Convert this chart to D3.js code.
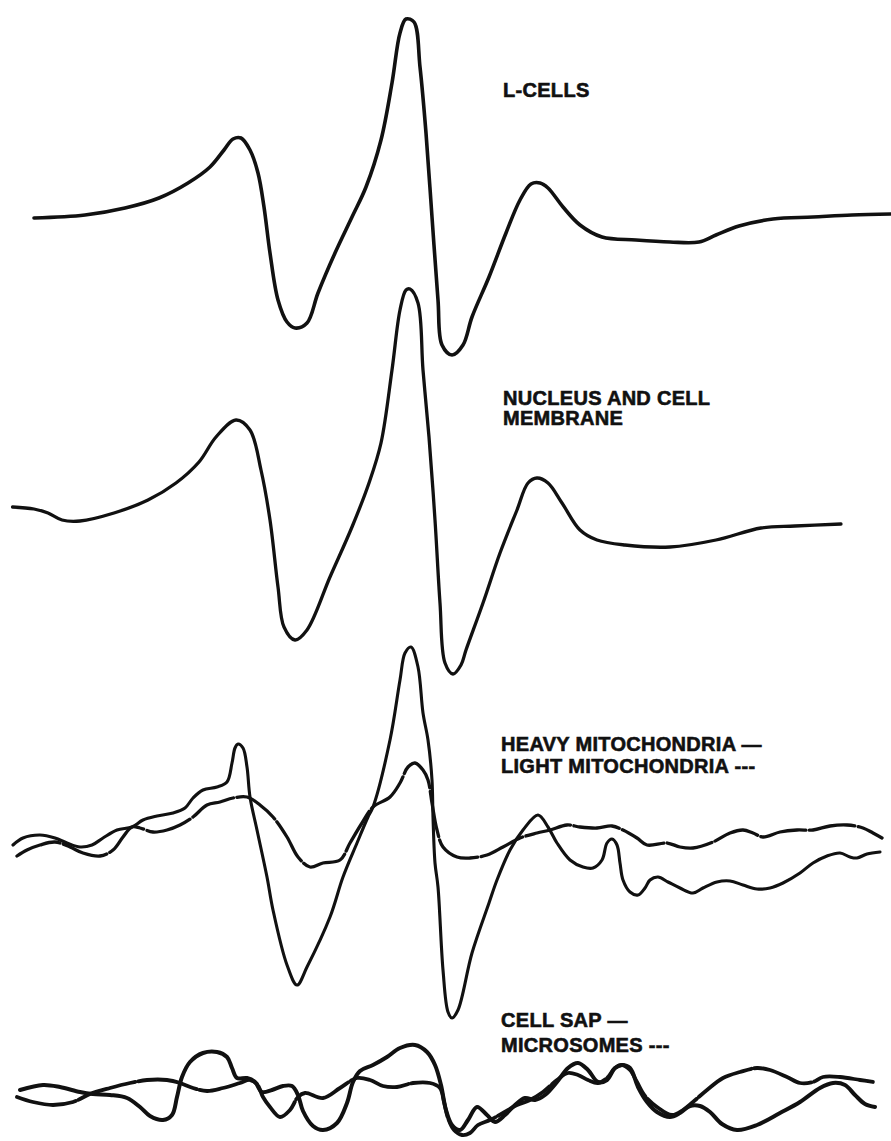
<!DOCTYPE html>
<html>
<head>
<meta charset="utf-8">
<script src="https://cdn.jsdelivr.net/npm/d3@7"></script>
<style>
  html, body { margin: 0; padding: 0; background: #fff; }
  svg { display: block; }
  .lbl { font-family: "Liberation Sans", Arial, sans-serif; font-weight: bold; font-size: 20px;
         fill: #111; stroke: #111; stroke-width: 0.6px; letter-spacing: 0.3px; }
</style>
</head>
<body>
<svg id="chart" width="891" height="1141"></svg>
<script>
// EPR derivative spectra of L-cell fractions.
// x: field sweep position (arbitrary units), y: derivative signal relative to each trace's baseline.

const lCells = [
  [3.4,-0.3],[8.5,0],[12.5,0.7],[15.9,1.7],[18.8,3.2],[21.0,4.8],[22.4,6.5],[23.3,7.6],[24.1,7.7],
  [25.0,6.5],[25.8,4.2],[26.4,0.8],[27.0,-3.8],[27.8,-8.5],[28.7,-10.7],[29.5,-11.3],[30.7,-10.8],
  [31.8,-7.8],[33.5,-3.8],[35.2,-0.2],[36.6,2.8],[38.1,7.5],[39.2,13.2],[40.0,18.2],[40.6,19.6],
  [41.4,19.3],[42.0,14.8],[42.6,8.2],[43.2,-0.2],[43.8,-8.5],[44.2,-13.0],[45.2,-14.0],[46.3,-13.0],
  [47.2,-10.2],[48.9,-6.2],[50.6,-1.8],[52.0,1.5],[53.1,3.1],[54.0,3.2],[54.8,2.7],[56.3,0.8],
  [58.0,-1.0],[60.2,-2.2],[63.6,-2.5],[67.0,-2.7],[69.9,-2.7],[71.6,-2.0],[73.9,-1.1],[77.3,-0.4],
  [81.3,-0.2],[85.2,0],[89.1,0.1]
];

const nucleusMembrane = [
  [1.25,1.3],[3.4,1.1],[4.8,0.7],[6.2,0],[8.0,-0.1],[11.4,0.7],[14.8,2.0],[17.6,3.7],[19.9,5.8],
  [21.6,8.3],[23.6,10.0],[25.0,9.0],[26.1,5.0],[27.0,0],[27.8,-6.7],[28.4,-10.7],[29.5,-12.0],
  [30.7,-11.0],[33.0,-5.7],[35.2,-0.7],[36.9,3.7],[38.1,7.7],[39.2,15.0],[40.0,21.0],[40.6,23.0],
  [41.0,23.1],[41.8,21.7],[42.3,15.0],[42.9,8.3],[43.5,0],[44.0,-8.3],[44.5,-14.3],[45.3,-15.4],
  [46.1,-14.5],[46.6,-13.0],[48.3,-8.3],[50.0,-3.3],[51.7,1.0],[52.8,3.7],[53.7,4.2],[54.8,3.7],
  [56.2,1.7],[58.0,-1.0],[59.7,-2.0],[62.5,-2.5],[67.0,-2.7],[71.6,-2.0],[76.1,-0.8],[79.5,-0.6],
  [84.1,-0.4]
];

const heavyMito = [
  [1.3,0.5],[2.3,1.2],[4.0,1.5],[5.5,1.2],[6.7,0.7],[8.0,0.3],[9.2,0.5],[10.3,1.2],[11.7,2.0],
  [13.2,2.3],[14.3,3.0],[15.7,3.4],[17.3,3.7],[18.5,4.2],[19.3,5.2],[20.3,6.0],[21.7,6.3],[22.7,6.8],
  [23.2,8.7],[23.5,10.2],[23.8,10.6],[24.3,10.2],[24.7,8.3],[25.0,5.3],[25.7,2.0],[26.7,-2.7],
  [27.3,-6.0],[28.7,-11.5],[29.7,-13.5],[30.7,-11.7],[33.0,-6.7],[34.3,-2.7],[35.7,0.7],[36.8,3.3],
  [37.3,4.3],[39.0,11.0],[40.0,17.0],[40.5,19.7],[41.1,20.3],[41.8,18.3],[42.3,13.7],[42.8,11.0],
  [43.2,7.0],[43.3,3.3],[43.5,-1.3],[43.8,-3.7],[44.3,-12.0],[44.8,-16.2],[45.2,-16.8],[45.8,-16.0],
  [47.2,-10.3],[48.9,-5.3],[49.7,-3.0],[51.0,0],[52.3,2.0],[53.8,3.5],[54.8,2.3],[55.7,0.7],
  [57.0,-1.0],[58.3,-1.7],[59.3,-1.8],[60.2,-1.0],[60.7,0.7],[61.2,1.1],[61.7,0.5],[62.0,-1.3],
  [62.3,-3.0],[63.0,-4.2],[63.8,-4.5],[64.5,-3.8],[65.0,-3.0],[65.8,-2.7],[66.8,-3.2],[68.0,-3.8],
  [69.3,-4.3],[70.3,-3.8],[71.7,-3.2],[73.0,-3.1],[74.3,-3.5],[75.7,-3.9],[77.0,-3.8],[78.3,-3.3],
  [80.0,-2.3],[81.3,-1.3],[82.7,-0.6],[84.0,-0.3],[85.0,-0.7],[85.7,-0.8],[86.7,-0.4],[88.0,-0.2]
];

const lightMito = [
  [1.7,-0.6],[2.7,0],[4.0,0.5],[5.5,0.8],[7.0,0.3],[8.3,-0.3],[10.0,-0.6],[11.3,0],[12.3,1.3],
  [13.2,2.3],[14.0,2.2],[15.3,1.8],[16.7,2.0],[18.0,2.5],[19.3,3.3],[20.7,4.5],[22.0,4.8],[23.3,5.2],
  [24.7,5.3],[26.0,4.5],[27.3,3.3],[28.7,1.3],[29.8,-0.7],[31.0,-1.7],[32.3,-1.3],[34.0,-1.0],
  [35.0,0.7],[36.2,2.7],[37.3,4.3],[39.0,5.3],[40.0,6.7],[40.8,8.3],[41.5,8.7],[42.3,8.0],[42.8,7.0],
  [43.2,4.7],[43.7,2.0],[44.3,0.3],[45.7,-0.7],[47.0,-0.8],[48.7,-0.5],[50.3,0.3],[52.0,1.2],
  [53.7,1.7],[55.0,2.0],[56.7,2.5],[58.0,2.3],[59.7,2.2],[61.2,2.4],[62.3,2.0],[63.7,1.2],[64.7,0.5],
  [66.7,0.7],[68.0,0.3],[69.3,0.2],[71.3,0.8],[73.0,1.7],[74.3,2.0],[75.3,1.7],[76.3,1.3],[78.0,1.8],
  [79.7,2.0],[81.3,2.0],[83.0,2.4],[84.7,2.5],[86.3,2.2],[87.3,1.7],[88.2,1.2]
];

const cellSap = [
  [2.0,0],[4.3,0.5],[6.0,0.3],[8.0,-0.2],[9.3,-0.4],[11.0,-0.5],[12.7,-0.8],[14.0,-1.7],[15.0,-2.6],
  [16.3,-3.0],[17.2,-2.5],[17.7,-0.7],[18.2,1.3],[19.0,2.8],[20.3,3.7],[21.7,3.8],[22.7,3.3],
  [23.2,2.2],[23.7,1.2],[24.7,1.2],[25.5,0.8],[26.2,-0.2],[27.2,0],[28.3,0.4],[29.2,0.4],[29.8,-0.5],
  [30.3,-2.1],[31.3,-3.6],[32.3,-4.0],[33.7,-3.3],[34.7,-1.3],[35.3,0.8],[36.0,1.9],[37.3,2.5],
  [38.7,3.3],[40.0,4.2],[41.5,4.5],[42.7,3.8],[43.5,2.5],[44.1,0.5],[44.6,-2.0],[45.2,-3.5],
  [46.0,-4.0],[46.8,-3.0],[47.7,-1.7],[48.7,-2.5],[49.5,-3.2],[50.5,-2.5],[51.5,-1.5],[52.5,-0.8],
  [53.5,-1.0],[54.5,-0.5],[55.7,0.8],[56.8,2.2],[57.8,2.7],[58.8,2.0],[59.8,0.8],[60.7,1.0],
  [61.5,2.2],[62.2,2.5],[63.0,2.2],[63.8,0.3],[64.7,-1.2],[65.7,-2.2],[67.0,-2.7],[68.0,-2.3],
  [69.0,-1.6],[70.0,-1.6],[71.0,-2.2],[72.2,-3.4],[73.7,-4.0],[75.7,-3.5],[78.0,-2.3],[80.0,-1.2],
  [82.0,0.2],[83.3,0.7],[84.5,0.5],[85.5,-0.5],[86.5,-1.4],[87.5,-1.7]
];

const microsomes = [
  [1.7,-0.7],[3.3,-1.2],[5.3,-1.5],[7.3,-1.2],[9.0,-0.4],[11.0,0.2],[13.0,0.7],[14.7,1.0],[16.7,1.0],
  [18.0,0.7],[19.3,0.2],[20.7,-0.1],[22.3,0.2],[24.0,0.7],[25.0,1.0],[25.7,0.6],[26.3,-0.7],
  [27.0,-1.7],[28.0,-2.7],[29.0,-2.0],[29.8,-0.7],[30.5,-0.3],[32.3,-0.8],[34.0,0.2],[35.7,1.2],
  [37.0,1.0],[38.3,0.4],[39.7,0.3],[41.3,0.7],[43.0,0.7],[44.0,0.2],[44.4,-1.2],[44.8,-2.8],
  [45.4,-4.0],[46.2,-4.5],[47.0,-4.3],[47.8,-3.5],[49.0,-3.0],[50.3,-2.3],[51.7,-1.5],[53.0,-1.0],
  [54.3,-0.2],[55.7,1.0],[56.8,1.7],[57.8,1.5],[58.8,1.0],[59.8,0.7],[60.7,1.2],[61.5,2.2],[62.2,2.5],
  [63.0,2.0],[63.7,0.8],[64.5,-0.6],[65.7,-1.7],[67.2,-2.5],[68.3,-2.0],[69.3,-1.2],[70.7,0],
  [72.3,1.2],[74.0,1.8],[75.7,2.2],[77.0,2.0],[78.7,1.3],[80.0,0.7],[81.3,0.8],[82.3,1.3],[84.0,1.3],
  [86.0,1.0],[87.3,0.8]
];

const panelTitles = [["L-CELLS"], ["NUCLEUS AND CELL", "MEMBRANE"]];
const legendTexts = [["HEAVY MITOCHONDRIA \u2014", "LIGHT MITOCHONDRIA ---"], ["CELL SAP \u2014", "MICROSOMES ---"]];

const svg = d3.select("#chart");
const W = 891, H = 1141;

const x = d3.scaleLinear().domain([0, 89.1]).range([0, W]);

// each trace is drawn around its own baseline; 1 signal unit = 10 px
function yScale(base) {
  return d3.scaleLinear().domain([-30, 30]).range([base + 300, base - 300]);
}

const panels = [
  { base: 215, traces: [{ data: lCells, width: 3.6 }] },
  { base: 520, traces: [{ data: nucleusMembrane, width: 3.3 }] },
  { base: 850, traces: [{ data: heavyMito, width: 3.1 }, { data: lightMito, width: 3.3, dash: "46,3.5" }] },
  { base: 1090, traces: [{ data: cellSap, width: 4 }, { data: microsomes, width: 3.8, dash: "60,3" }] }
];

panels.forEach(p => {
  const y = yScale(p.base);
  const line = d3.line()
    .x(d => x(d[0]))
    .y(d => y(d[1]))
    .curve(d3.curveCatmullRom.alpha(0.5));
  p.traces.forEach(t => {
    svg.append("path")
      .datum(t.data)
      .attr("d", line)
      .attr("fill", "none")
      .attr("stroke", "#111")
      .attr("stroke-width", t.width)
      .attr("stroke-linecap", "round")
      .attr("stroke-linejoin", "round")
      .attr("stroke-dasharray", t.dash || null);
  });
});

// labels
const textBlocks = [
  { lines: panelTitles[0], x: 503, y: 97, lead: 20 },
  { lines: panelTitles[1], x: 503, y: 405, lead: 20 },
  { lines: legendTexts[0], x: 501, y: 751, lead: 22 },
  { lines: legendTexts[1], x: 501, y: 1027, lead: 25 }
];
textBlocks.forEach(b => {
  b.lines.forEach((s, i) => {
    svg.append("text")
      .attr("class", "lbl")
      .attr("x", b.x)
      .attr("y", b.y + i * b.lead)
      .text(s);
  });
});
</script>
</body>
</html>
